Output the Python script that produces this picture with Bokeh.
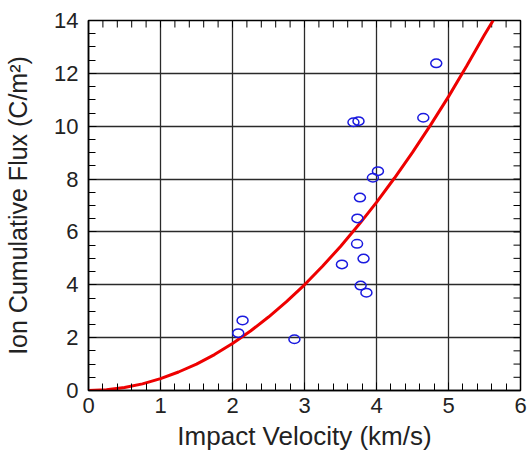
import numpy as np
from bokeh.plotting import figure
from bokeh.models import SingleIntervalTicker, Range1d
from bokeh.embed import file_html
from bokeh.resources import INLINE

# Measured data (blue open circles)
vel = [2.14, 2.08, 2.86, 3.52, 3.73, 3.82, 3.78, 3.86, 3.735, 3.77, 3.95, 4.02, 3.68, 3.75, 4.65, 4.83]
flux = [2.65, 2.17, 1.94, 4.77, 5.55, 4.99, 3.97, 3.70, 6.51, 7.30, 8.05, 8.30, 10.15, 10.19, 10.32, 12.38]

# Red fit curve
fit_x = [0, 0.25, 0.5, 0.75, 1.0, 1.25, 1.5, 1.75, 2.0, 2.25, 2.5, 2.75, 3.0, 3.25, 3.5,
         3.75, 4.0, 4.25, 4.5, 4.75, 5.0, 5.25, 5.5, 5.62]
fit_y = [0, 0.03, 0.11, 0.25, 0.45, 0.70, 1.0, 1.36, 1.78, 2.25, 2.78, 3.36, 4.0, 4.70,
         5.45, 6.26, 7.12, 8.04, 9.01, 10.04, 11.12, 12.27, 13.46, 14.0]

x_label = "Impact Velocity (km/s)"
y_label = "Ion Cumulative Flux (C/m²)"

FONT = "Liberation Sans"
X0, X1, Y0, Y1 = 0, 6, 0, 14

p = figure(width=527, height=454, output_backend="svg", toolbar_location=None,
           x_range=Range1d(X0, X1), y_range=Range1d(Y0, Y1),
           min_border_left=88, min_border_right=7, min_border_top=20, min_border_bottom=64,
           x_axis_label=x_label, y_axis_label=y_label)
p.background_fill_color = "white"
p.border_fill_color = "white"
p.outline_line_color = "black"
p.outline_line_width = 1.5

xt = SingleIntervalTicker(interval=1, num_minor_ticks=5)
yt = SingleIntervalTicker(interval=2, num_minor_ticks=4)
p.xaxis.ticker = xt
p.yaxis.ticker = yt

for ax in (p.xaxis[0], p.yaxis[0]):
    ax.axis_line_color = "black"
    ax.axis_line_width = 1.5
    ax.major_tick_in = 8
    ax.major_tick_out = 0
    ax.minor_tick_in = 7
    ax.minor_tick_out = 0
    ax.major_tick_line_color = "black"
    ax.minor_tick_line_color = "black"
    ax.major_label_text_font = FONT
    ax.major_label_text_font_size = "22px"
    ax.major_label_text_color = "#222222"
    ax.axis_label_text_font = FONT
    ax.axis_label_text_font_style = "normal"
    ax.axis_label_text_color = "#222222"

p.xaxis.major_label_standoff = 7
p.yaxis.major_label_standoff = 10
p.xaxis.axis_label_text_font_size = "26px"
p.yaxis.axis_label_text_font_size = "25px"
p.xaxis.axis_label_standoff = 5
p.yaxis.axis_label_standoff = 19

p.xgrid.ticker = xt
p.ygrid.ticker = yt
p.grid.grid_line_color = "#2a2a2a"
p.grid.grid_line_width = 1.3
p.grid.grid_line_alpha = 1.0

# inward ticks on the top and right edges of the frame
top_minor = np.arange(X0, X1 + 1e-9, 0.2)
right_minor = np.arange(Y0, Y1 + 1e-9, 0.5)
p.ray(x=top_minor, y=[Y1] * len(top_minor), length=7, angle=-np.pi / 2,
      length_units="screen", line_color="black", line_width=1)
p.ray(x=[X1] * len(right_minor), y=right_minor, length=7, angle=np.pi,
      length_units="screen", line_color="black", line_width=1)

p.line(fit_x, fit_y, line_color="#ee0000", line_width=3)
p.ellipse(vel, flux, width=11, height=8.5, width_units="screen", height_units="screen",
          fill_color=None, line_color="#1a1adf", line_width=1.5)

open("out.html", "w").write(file_html(p, INLINE))
